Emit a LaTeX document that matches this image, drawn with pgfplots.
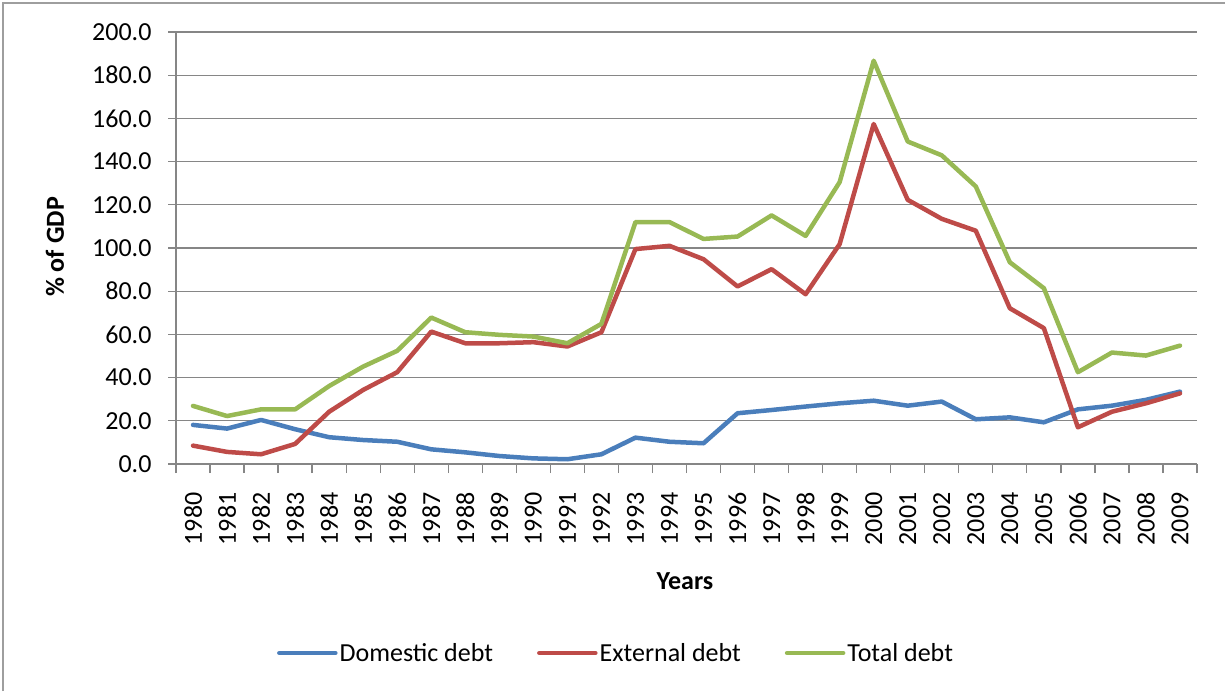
\documentclass[border=0pt]{standalone}
\usepackage{fontspec}
\setmainfont{Carlito}
\usepackage{pgfplots}
\pgfplotsset{compat=1.18}
\usepackage{pgfplotstable}
\definecolor{cblue}{RGB}{74,126,187}
\definecolor{cred}{RGB}{190,75,72}
\definecolor{cgreen}{RGB}{152,185,84}
\definecolor{cgrid}{RGB}{134,134,134}
\pgfplotstableread{
x year dom ext tot
0 1980 18.1 8.5 26.9
1 1981 16.4 5.6 22.2
2 1982 20.4 4.5 25.3
3 1983 16.1 9.3 25.3
4 1984 12.4 24.2 36.1
5 1985 11.1 34.3 45.1
6 1986 10.3 42.5 52.4
7 1987 6.8 61.3 67.8
8 1988 5.4 55.9 61.0
9 1989 3.7 55.9 59.8
10 1990 2.6 56.4 59.0
11 1991 2.2 54.4 55.9
12 1992 4.5 61.0 64.9
13 1993 12.2 99.5 112.0
14 1994 10.3 101.0 112.0
15 1995 9.6 94.8 104.2
16 1996 23.5 82.2 105.3
17 1997 25.0 90.2 115.1
18 1998 26.6 78.6 105.6
19 1999 28.1 101.8 130.5
20 2000 29.3 157.4 186.7
21 2001 27.0 122.3 149.3
22 2002 28.9 113.5 142.9
23 2003 20.7 108.0 128.5
24 2004 21.6 72.1 93.4
25 2005 19.3 62.9 81.4
26 2006 25.3 17.0 42.5
27 2007 27.0 24.2 51.6
28 2008 29.7 28.1 50.2
29 2009 33.5 32.7 54.8
}\debt
\begin{document}
\begin{tikzpicture}
\useasboundingbox (0,0) rectangle (1225pt,691pt);
\draw[cgrid!80, line width=2pt] (3pt,0) -- (3pt,688pt) -- (1225pt,688pt);
\begin{axis}[
  at={(176pt,227pt)}, anchor=south west,
  scale only axis, width=1021pt, height=432pt,
  xmin=-0.5, xmax=29.5, ymin=0, ymax=200,
  axis x line*=bottom, axis y line*=left,
  axis line style={cgrid, line width=1.3pt},
  xtick={0,...,29},
  xticklabels={1980,1981,1982,1983,1984,1985,1986,1987,1988,1989,1990,1991,1992,1993,1994,1995,1996,1997,1998,1999,2000,2001,2002,2003,2004,2005,2006,2007,2008,2009},
  major x tick style={draw=none},
  minor xtick={-0.5,0.5,...,29.5},
  minor x tick style={cgrid, line width=1.3pt},
  minor tick length=9pt,
  ytick={0,20,...,200},
  major tick length=8pt,
  tick align=outside,
  y tick style={cgrid, line width=1.3pt},
  ymajorgrids, grid style={cgrid, line width=1.3pt},
  y tick label style={/pgf/number format/fixed, /pgf/number format/fixed zerofill, /pgf/number format/precision=1, /pgf/number format/assume math mode=true},
  yticklabel style={font=\fontsize{26}{30}\selectfont, anchor=east, xshift=-13pt},
  xticklabel style={font=\fontsize{26}{30}\selectfont, yshift=-17pt, rotate=90, anchor=east},
  legend style={draw=none, fill=none, at={(axis description cs:0.431,-0.4375)}, anchor=center,
    legend columns=3, font=\fontsize{26}{30}\selectfont,
    /tikz/every even column/.append style={column sep=42pt},
    nodes={inner xsep=2pt}},
  legend image code/.code={\draw[#1] (0pt,0pt) -- (56pt,0pt);},
  every axis plot/.append style={line width=4.5pt, line join=round, line cap=round},
]
\addplot[cblue] table[x=x,y=dom]{\debt};
\addlegendentry{Domestic debt}
\addplot[cred] table[x=x,y=ext]{\debt};
\addlegendentry{External debt}
\addplot[cgreen] table[x=x,y=tot]{\debt};
\addlegendentry{Total debt}
\end{axis}
\node[rotate=90, font=\bfseries\fontsize{26}{30}\selectfont] at (55pt,444pt) {\% of GDP};
\node[font=\bfseries\fontsize{26}{30}\selectfont] at (685pt,110pt) {Years};
\end{tikzpicture}
\end{document}
